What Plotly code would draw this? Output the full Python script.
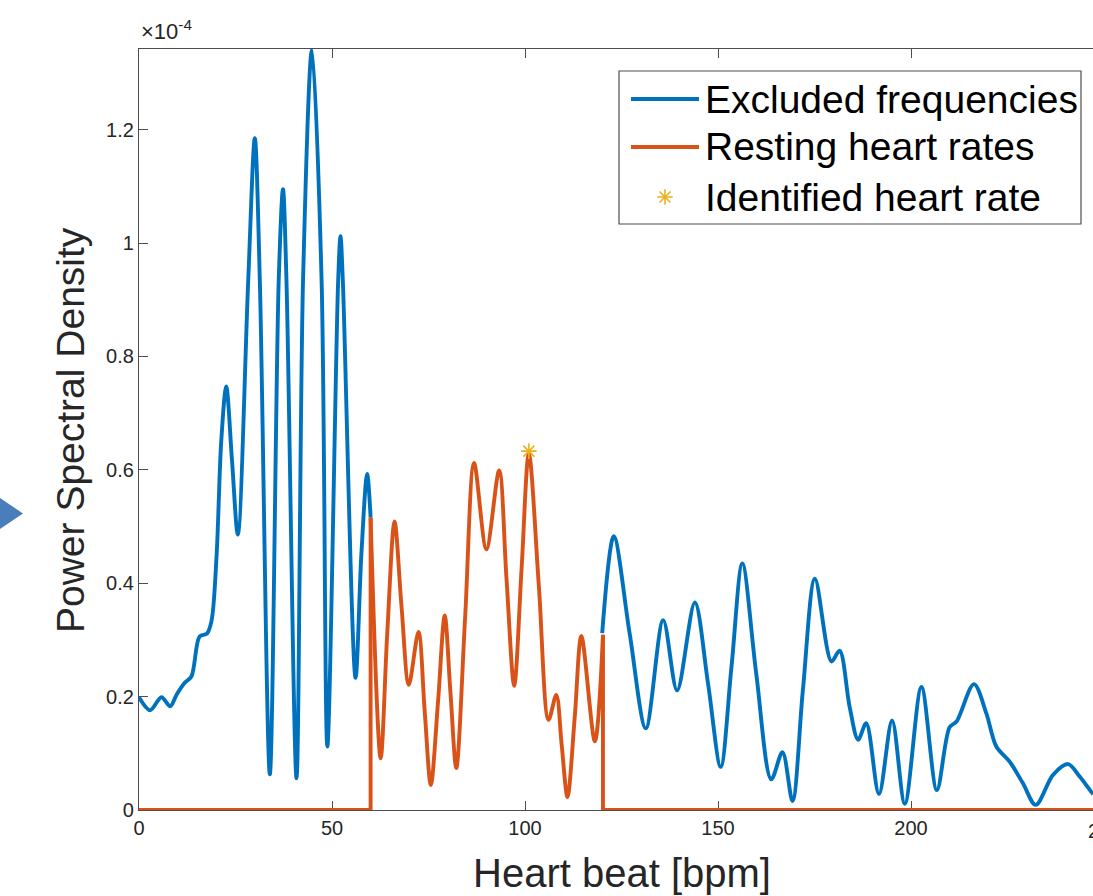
import plotly.graph_objects as go

# ---------------- data (PSD values in units of 1e-4) ----------------
bpm_low = [0, 2.9, 5.8, 8.1, 9.7, 11.8, 13.6, 15.7, 17.6, 18.8, 20.1, 21.3, 22.6, 24.1, 25.6,
           28.3, 30.0, 31.3, 33.9, 36.2, 37.3, 38.2, 40.8, 42.5, 44.8, 47.3, 48.8,
           51.6, 52.2, 52.8, 56.1, 57.6, 59.1, 60.0]
psd_low = [0.199, 0.176, 0.199, 0.183, 0.203, 0.224, 0.236, 0.306, 0.311, 0.334, 0.449, 0.65, 0.747, 0.616, 0.486,
           0.935, 1.185, 0.935, 0.063, 0.935, 1.095, 0.935, 0.056, 0.935, 1.341, 0.935, 0.112,
           0.935, 1.012, 0.935, 0.233, 0.45, 0.593, 0.516]

bpm_rest = [60.0, 62.6, 64.3, 66.2, 68.0, 69.9, 72.4, 74.0, 75.6, 77.5, 79.2, 80.7, 82.2, 84.5, 86.8,
            90.0, 93.3, 95.2, 97.2, 99.1, 101.0, 103.6, 106.1, 108.1, 109.5, 111.0, 112.9, 114.6,
            118.1, 120.2]
psd_rest = [0.516, 0.091, 0.31, 0.509, 0.36, 0.221, 0.314, 0.176, 0.044, 0.194, 0.343, 0.206, 0.074, 0.341, 0.612,
            0.460, 0.599, 0.409, 0.219, 0.424, 0.629, 0.394, 0.159, 0.203, 0.115, 0.023, 0.165, 0.307,
            0.121, 0.309]

bpm_high = [120.0, 123.0, 127.1, 131.3, 135.8, 139.4, 144.0, 147.4, 150.7, 153.5, 156.3, 159.9, 163.8,
            166.7, 169.3, 172.0, 175.1, 179.4, 181.5, 184.1, 186.3, 188.4, 191.7, 195.1, 198.4,
            202.7, 206.7, 210.0, 211.8, 216.3, 219.5, 222.1, 225.6, 229.0, 232.3, 236.8, 240.7,
            243.7, 246.7, 247.2]
psd_high = [0.312, 0.483, 0.312, 0.144, 0.335, 0.211, 0.366, 0.224, 0.076, 0.253, 0.435, 0.241, 0.054,
            0.102, 0.016, 0.212, 0.408, 0.262, 0.281, 0.182, 0.124, 0.153, 0.028, 0.158, 0.011,
            0.217, 0.035, 0.146, 0.156, 0.222, 0.171, 0.112, 0.085, 0.047, 0.009, 0.062, 0.081,
            0.059, 0.032, 0.028]

# zero baseline of the resting-rate series outside the 60-120 bpm band
bpm_zero = [0, 60.0, 60.0, None, 120.2, 120.2, 250]
psd_zero = [0, 0, 0.516, None, 0.309, 0, 0]

peak_bpm = [101.0]
peak_psd = [0.633]

x_ticks = [0, 50, 100, 150, 200]
y_ticks = [0, 0.2, 0.4, 0.6, 0.8, 1.0, 1.2]
y_ticktext = ["0", "0.2", "0.4", "0.6", "0.8", "1", "1.2"]

legend_names = ["Excluded frequencies", "Resting heart rates", "Identified heart rate"]

# ---------------- styling ----------------
BLUE = "#0072BD"
ORANGE = "#D95319"
GOLD = "#EDB120"
AX = "#4d4d4d"
TXT = "#262626"
FONT = "Liberation Sans, Arial, Helvetica, sans-serif"

W, H = 1093, 896
L, T, B = 139, 49, 86
PW, PH = W - L, H - T - B
X_MAX = 247.15
Y_MAX = 1.3424

def px(X):
    return (X - L) / PW

def py(Y):
    return (T + PH - Y) / PH

fig = go.Figure()
LW = 3.9
fig.add_trace(go.Scatter(x=bpm_low, y=psd_low, mode="lines",
                         line=dict(color=BLUE, width=LW, shape="spline", smoothing=0.9),
                         showlegend=False, hoverinfo="skip"))
fig.add_trace(go.Scatter(x=bpm_high, y=psd_high, mode="lines",
                         line=dict(color=BLUE, width=LW, shape="spline", smoothing=0.9),
                         showlegend=False, hoverinfo="skip"))
fig.add_trace(go.Scatter(x=bpm_zero, y=psd_zero, mode="lines",
                         line=dict(color=ORANGE, width=LW), connectgaps=False,
                         showlegend=False, hoverinfo="skip"))
fig.add_trace(go.Scatter(x=bpm_rest, y=psd_rest, mode="lines",
                         line=dict(color=ORANGE, width=LW, shape="spline", smoothing=0.9),
                         showlegend=False, hoverinfo="skip"))
fig.add_trace(go.Scatter(x=peak_bpm, y=peak_psd, mode="markers",
                         marker=dict(symbol="asterisk-open", size=13,
                                     line=dict(color=GOLD, width=1.6), color=GOLD),
                         showlegend=False, hoverinfo="skip"))

# ---------------- manual legend (MATLAB style) ----------------
lg_x0, lg_x1, lg_y0, lg_y1 = 619, 1081, 71, 224
row_y = [99, 147, 197]
shapes = [
    dict(type="rect", xref="paper", yref="paper",
         x0=px(lg_x0), x1=px(lg_x1), y0=py(lg_y1), y1=py(lg_y0),
         line=dict(color=AX, width=1.2), fillcolor="rgba(255,255,255,0)", layer="below"),
    dict(type="line", xref="paper", yref="paper", x0=px(631), x1=px(699),
         y0=py(row_y[0]), y1=py(row_y[0]), line=dict(color=BLUE, width=LW), layer="above"),
    dict(type="line", xref="paper", yref="paper", x0=px(631), x1=px(699),
         y0=py(row_y[1]), y1=py(row_y[1]), line=dict(color=ORANGE, width=LW), layer="above"),
    # slide navigation arrow at the far left
    dict(type="path", xref="paper", yref="paper",
         path="M {:.5f} {:.5f} L {:.5f} {:.5f} L {:.5f} {:.5f} Z".format(
             px(0), py(498), px(23), py(513.5), px(0), py(529)),
         fillcolor="#4A7EBB", line=dict(width=0), layer="above"),
]
# legend star glyph (placed in data units derived from the legend box position)
fig.add_trace(go.Scatter(x=[px(665) * X_MAX], y=[py(row_y[2]) * Y_MAX], mode="markers",
                         marker=dict(symbol="asterisk-open", size=13,
                                     line=dict(color=GOLD, width=1.6), color=GOLD),
                         showlegend=False, hoverinfo="skip", cliponaxis=False))

annotations = []
for name, yy in zip(legend_names, row_y):
    annotations.append(dict(text=name, xref="paper", yref="paper", x=px(703), y=py(yy),
                            xanchor="left", yanchor="middle", showarrow=False,
                            font=dict(family=FONT, size=39, color="black")))

annotations += [
    dict(text="Heart beat [bpm]", xref="paper", yref="paper", x=px(622), y=py(873),
         xanchor="center", yanchor="middle", showarrow=False,
         font=dict(family=FONT, size=40, color=TXT)),
    dict(text="Power Spectral Density", xref="paper", yref="paper", x=px(70), y=py(430),
         xanchor="center", yanchor="middle", textangle=-90, showarrow=False,
         font=dict(family=FONT, size=39, color=TXT)),
    dict(text="\u00d710<sup>-4</sup>", xref="paper", yref="paper", x=px(139), y=py(46),
         xanchor="left", yanchor="bottom", showarrow=False,
         font=dict(family=FONT, size=22, color=TXT)),
    dict(text="250", xref="paper", yref="paper", x=px(1104), y=py(831),
         xanchor="center", yanchor="middle", showarrow=False,
         font=dict(family=FONT, size=20, color=TXT)),
]

fig.update_layout(
    width=W, height=H,
    margin=dict(l=L, r=0, t=T, b=B, pad=0),
    paper_bgcolor="white", plot_bgcolor="white",
    showlegend=False,
    shapes=shapes, annotations=annotations,
    font=dict(family=FONT, size=20, color=TXT),
)
fig.update_xaxes(range=[0, X_MAX], tickvals=x_ticks, ticks="inside", ticklen=9,
                 tickcolor=AX, tickwidth=1.2, showline=True, linecolor=AX, linewidth=1.3,
                 mirror="ticks", showgrid=False, zeroline=False, layer="below traces",
                 tickfont=dict(family=FONT, size=20, color=TXT))
fig.update_yaxes(range=[0, Y_MAX], tickvals=y_ticks, ticktext=y_ticktext, ticks="inside",
                 ticklen=9, tickcolor=AX, tickwidth=1.2, showline=True, linecolor=AX,
                 linewidth=1.3, mirror=False, showgrid=False, zeroline=False,
                 layer="below traces", tickfont=dict(family=FONT, size=20, color=TXT))

fig.write_html("out.html", config={"displayModeBar": False},
               post_script="document.body.style.margin='0px';document.body.style.overflow='hidden';")
